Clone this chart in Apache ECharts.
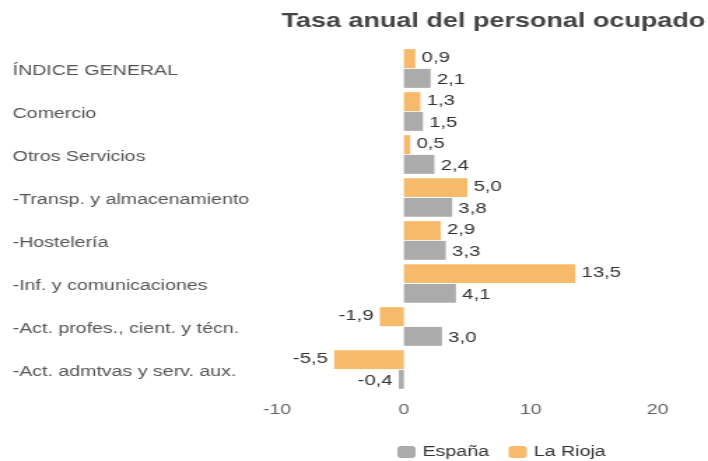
<!DOCTYPE html>
<html>
<head>
<meta charset="utf-8">
<script src="https://cdn.jsdelivr.net/npm/echarts@6/dist/echarts.min.js"></script>
<style>
  html, body { margin: 0; padding: 0; background: #fff; overflow: hidden; }
  /* The graphic is laid out on a narrower canvas and widened horizontally */
  #chart { width: 506px; height: 461px; transform: scaleX(1.3992); transform-origin: 0 0; }
</style>
</head>
<body>
<div id="chart"></div>
<script>
// Sectores (de arriba abajo)
const categories = [
  'ÍNDICE GENERAL',
  'Comercio',
  'Otros Servicios',
  '-Transp. y almacenamiento',
  '-Hostelería',
  '-Inf. y comunicaciones',
  '-Act. profes., cient. y técn.',
  '-Act. admtvas y serv. aux.'
];
// Tasa anual (%)
const espana  = [2.1, 1.5, 2.4, 3.8, 3.3, 4.1, 3.0, -0.4];
const laRioja = [0.9, 1.3, 0.5, 5.0, 2.9, 13.5, -1.9, -5.5];
const xTicks = [-10, 0, 10, 20];

const FONT = 'Liberation Sans, Arial, sans-serif';
const fmt = v => v.toFixed(1).replace('.', ',');
const toItems = arr => arr.map(v => ({
  value: v,
  label: { position: v < 0 ? 'left' : 'right' }
}));

const chart = echarts.init(document.getElementById('chart'));
chart.setOption({
  backgroundColor: '#ffffff',
  animation: false,
  textStyle: { fontFamily: FONT },
  title: {
    text: 'Tasa anual del personal ocupado',
    right: 2,
    top: 12,
    padding: 0,
    textStyle: { fontSize: 19.3, fontWeight: 'bold', color: '#444', fontFamily: FONT }
  },
  legend: {
    data: ['España', 'La Rioja'],
    left: 279,
    top: 440,
    itemWidth: 13,
    itemHeight: 12,
    itemGap: 14,
    textStyle: { fontSize: 14, color: '#333', fontFamily: FONT }
  },
  grid: { left: 198, right: 36, top: 47, bottom: 70, containLabel: false },
  xAxis: {
    type: 'value',
    min: xTicks[0],
    max: xTicks[xTicks.length - 1],
    interval: 10,
    axisLine: { show: false },
    axisTick: { show: false },
    splitLine: { show: false },
    axisLabel: { color: '#666', fontSize: 14, margin: 12, fontFamily: FONT }
  },
  yAxis: {
    type: 'category',
    data: categories,
    inverse: true,
    axisLine: { show: false },
    axisTick: { show: false },
    axisLabel: {
      align: 'left',
      margin: 189,
      formatter: v => '{c|' + v + '}',
      rich: { c: { color: '#555', fontSize: 14, fontFamily: FONT, padding: [6, 0, 0, 0] } }
    }
  },
  series: [
    {
      name: 'La Rioja',
      type: 'bar',
      data: toItems(laRioja),
      itemStyle: { color: '#F7BA6A' },
      barGap: '4%',
      barCategoryGap: '10%',
      label: { show: true, color: '#333', fontSize: 14.5, distance: 4.5, offset: [0, -1], fontFamily: FONT, formatter: p => fmt(p.value) }
    },
    {
      name: 'España',
      type: 'bar',
      data: toItems(espana),
      itemStyle: { color: '#ABABAB' },
      barGap: '4%',
      barCategoryGap: '10%',
      label: { show: true, color: '#333', fontSize: 14.5, distance: 4.5, offset: [0, 2], fontFamily: FONT, formatter: p => fmt(p.value) }
    }
  ]
});
</script>
</body>
</html>
